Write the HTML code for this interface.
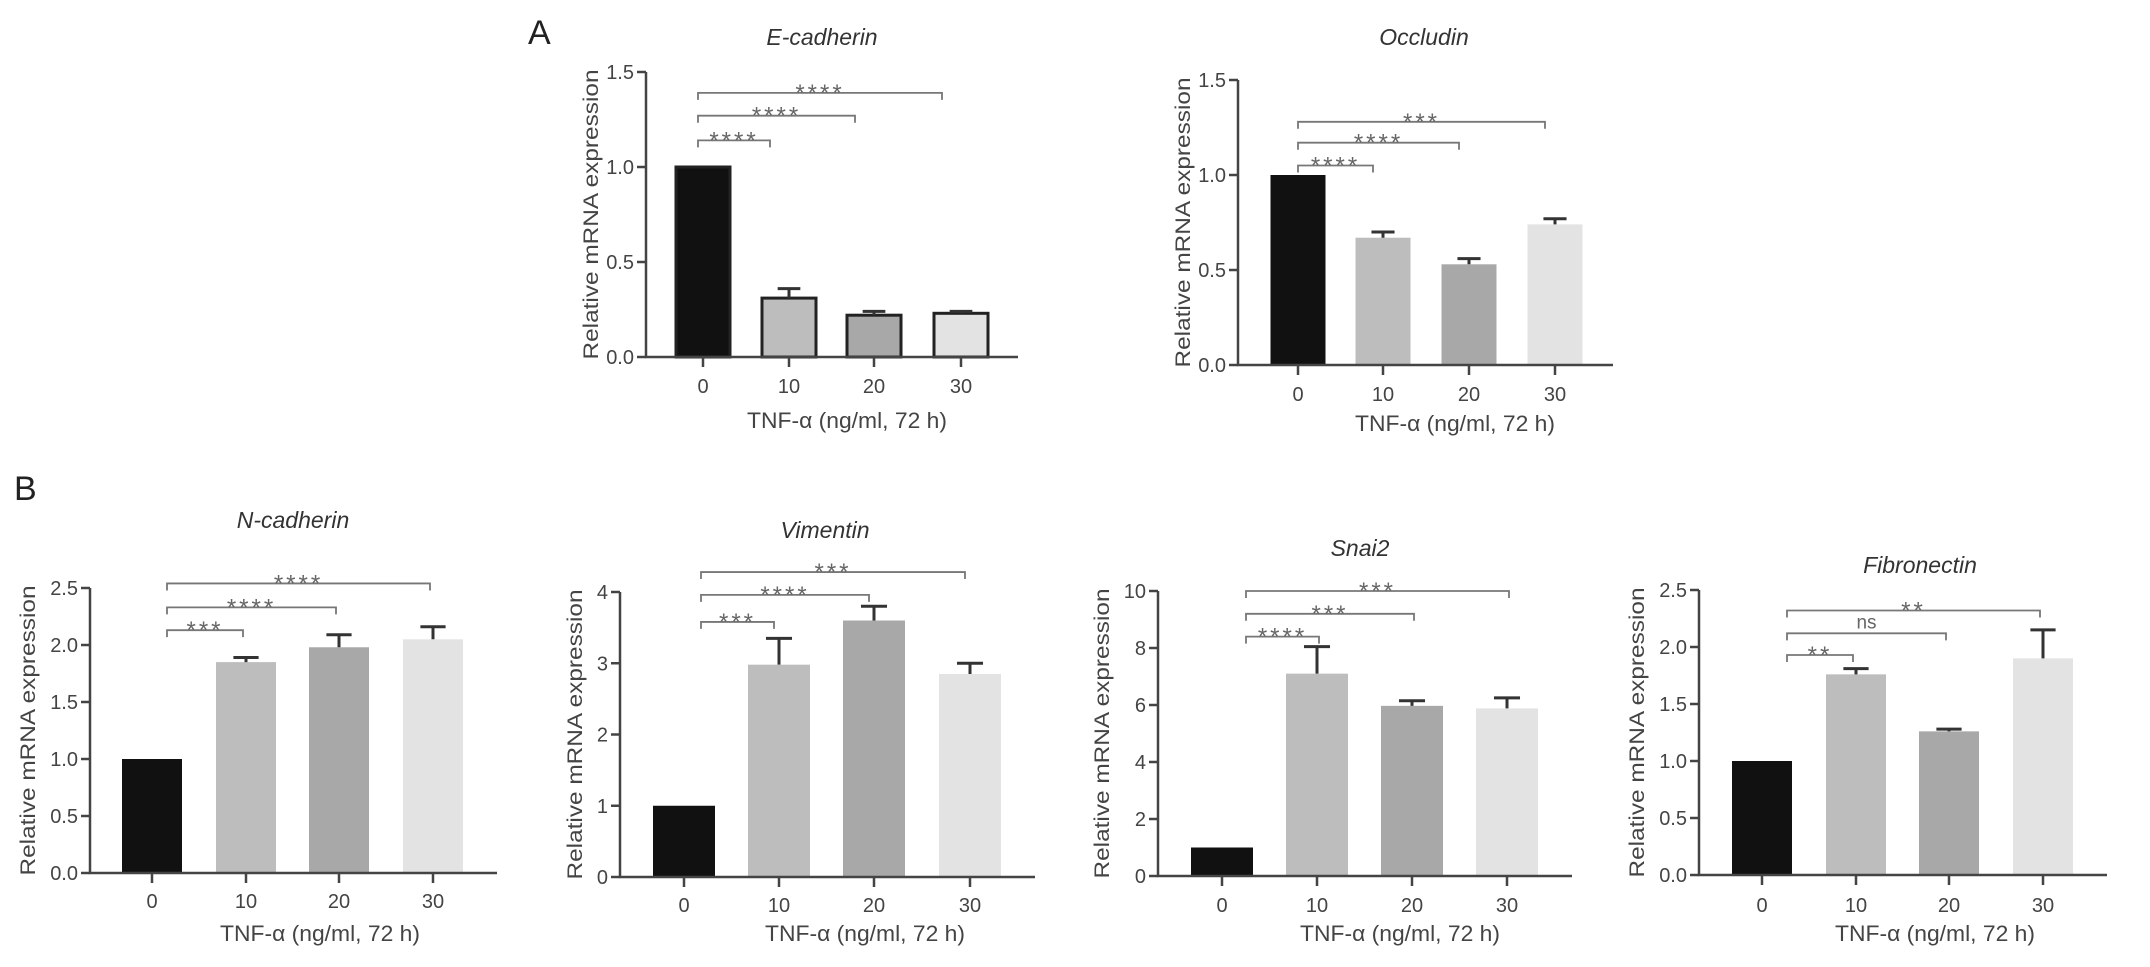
<!DOCTYPE html>
<html><head><meta charset="utf-8"><style>
html,body{margin:0;padding:0;background:#fff;}
svg{display:block;font-family:"Liberation Sans",Arial,sans-serif;}
</style></head><body>
<svg id="fig" width="2150" height="967" viewBox="0 0 2150 967" xmlns="http://www.w3.org/2000/svg">
<text x="528" y="44" font-size="34" fill="#222">A</text>
<text x="14" y="500" font-size="34" fill="#222">B</text>
</svg>
<script>
const categories = ["0","10","20","30"];
const colors = ["#111111","#bdbdbd","#a8a8a8","#e3e3e3"];
const ecadValues = [1.0, 0.31, 0.22, 0.23];
const ecadErr = [1.0, 0.36, 0.24, 0.24];
const ecadTicks = ["0.0","0.5","1.0","1.5"];
const ecadBrackets = [1.14, 1.27, 1.39];
const ecadStars = ["****","****","****"];
const occValues = [1.0, 0.67, 0.53, 0.74];
const occErr = [1.0, 0.70, 0.56, 0.77];
const occTicks = ["0.0","0.5","1.0","1.5"];
const occBrackets = [1.05, 1.17, 1.28];
const occStars = ["****","****","***"];
const ncadValues = [1.0, 1.85, 1.98, 2.05];
const ncadErr = [1.0, 1.89, 2.09, 2.16];
const ncadTicks = ["0.0","0.5","1.0","1.5","2.0","2.5"];
const ncadBrackets = [2.13, 2.33, 2.54];
const ncadStars = ["***","****","****"];
const vimValues = [1.0, 2.98, 3.6, 2.85];
const vimErr = [1.0, 3.35, 3.8, 3.0];
const vimTicks = ["0","1","2","3","4"];
const vimBrackets = [3.58, 3.96, 4.28];
const vimStars = ["***","****","***"];
const snaiValues = [1.0, 7.1, 5.97, 5.88];
const snaiErr = [1.0, 8.05, 6.15, 6.25];
const snaiTicks = ["0","2","4","6","8","10"];
const snaiBrackets = [8.4, 9.2, 10.0];
const snaiStars = ["****","***","***"];
const fibValues = [1.0, 1.76, 1.26, 1.90];
const fibErr = [1.0, 1.81, 1.28, 2.15];
const fibTicks = ["0.0","0.5","1.0","1.5","2.0","2.5"];
const fibBrackets = [1.93, 2.12, 2.32];
const fibStars = ["**","ns","**"];

const svg = document.getElementById('fig');
const NS = "http://www.w3.org/2000/svg";
function mk(tag, attrs, parent){
  const e = document.createElementNS(NS, tag);
  for (const k in attrs) e.setAttribute(k, attrs[k]);
  (parent||svg).appendChild(e);
  return e;
}
function panel(p){
  const g = mk('g', {});
  
  
  const ymax = parseFloat(p.ticks[p.ticks.length-1]);
  const y = v => p.y0 - (v / ymax) * (p.y0 - p.yTop);
  const x = i => p.cx[i];
  // title
  const t = mk('text', {x:p.titleX, y:p.titleY, 'font-size':23, 'font-style':'italic', 'text-anchor':'middle', fill:'#333'}, g);
  t.textContent = p.title;
  
  
  // bars
  p.values.forEach((v,i)=>{
    const w = p.bw;
    const r = mk('rect', {x:x(i)-w/2, y:y(v), width:w, height:p.y0 - y(v), fill:colors[i]}, g);
    if (p.outline){ r.setAttribute('stroke','#222'); r.setAttribute('stroke-width','3'); }
    
    
    if (p.err[i] > v + 1e-9){
      const cw = w*0.42;
      const el = mk('path', {d:`M${x(i)} ${y(v)} V${y(p.err[i])} M${x(i)-cw/2} ${y(p.err[i])} H${x(i)+cw/2}`, stroke:'#333', 'stroke-width':3, fill:'none'}, g);
      
      
    }
  });
  // axes
  const ax = mk('path', {d:`M${p.ax} ${p.yTop} V${p.y0} H${p.axEnd}`, stroke:'#444', 'stroke-width':2.5, fill:'none'}, g);
  
  
  p.ticks.forEach(tl=>{
    const yy = y(parseFloat(tl));
    mk('line', {x1:p.ax-9, x2:p.ax, y1:yy, y2:yy, stroke:'#444', 'stroke-width':2.5}, g);
    const tt = mk('text', {x:p.ax-12, y:yy+7, 'font-size':20, 'text-anchor':'end', fill:'#444'}, g);
    tt.textContent = tl;
    
    
  });
  categories.forEach((c,i)=>{
    mk('line', {x1:x(i), x2:x(i), y1:p.y0, y2:p.y0+10, stroke:'#444', 'stroke-width':2.5}, g);
    const tt = mk('text', {x:x(i), y:p.xtY, 'font-size':20, 'text-anchor':'middle', fill:'#444'}, g);
    tt.textContent = c;
    
    
  });
  const yl = mk('text', {x:0, y:0, 'font-size':21, 'text-anchor':'middle', fill:'#444', textLength:290, lengthAdjust:'spacingAndGlyphs', transform:`translate(${p.ylX},${(p.yTop+p.y0)/2}) rotate(-90)`}, g);
  yl.textContent = 'Relative mRNA expression';
  
  
  const xl = mk('text', {x:p.xlX, y:p.xlY, 'font-size':22, 'text-anchor':'middle', fill:'#444', textLength:200, lengthAdjust:'spacingAndGlyphs'}, g);
  xl.textContent = 'TNF-α (ng/ml, 72 h)';
  
  
  // brackets
  p.brackets.forEach((bv,k)=>{
    const x1 = x(0)+p.s, x2 = x(k+1)+p.e, yy = y(bv);
    const b = mk('path', {d:`M${x1} ${yy+7} V${yy} H${x2} V${yy+7}`, stroke:'#777', 'stroke-width':1.8, fill:'none'}, g);
    
    
    const st = p.stars[k];
    const s = mk('text', {x:(x1+x2)/2, y: st==='ns' ? yy-5 : yy+8, 'font-size': st==='ns'?19:24, 'text-anchor':'middle', fill:'#666', 'letter-spacing': st==='ns'?0:3}, g);
    s.textContent = st;
    
    
  });
}
panel({name:'e-cadherin', title:'E-cadherin', values:ecadValues, err:ecadErr, ticks:ecadTicks, brackets:ecadBrackets, stars:ecadStars,
  ax:646, yTop:72, y0:357, axEnd:1018, cx:[703,789,874,961], bw:54, outline:true,
  titleX:822, titleY:45, ylX:598, xtY:393, xlX:847, xlY:428, s:-5, e:-19});
panel({name:'occludin', title:'Occludin', values:occValues, err:occErr, ticks:occTicks, brackets:occBrackets, stars:occStars,
  ax:1238, yTop:80, y0:365, axEnd:1613, cx:[1298,1383,1469,1555], bw:55, outline:false,
  titleX:1424, titleY:45, ylX:1190, xtY:401, xlX:1455, xlY:431, s:0, e:-10});
panel({name:'n-cadherin', title:'N-cadherin', values:ncadValues, err:ncadErr, ticks:ncadTicks, brackets:ncadBrackets, stars:ncadStars,
  ax:90, yTop:588, y0:873, axEnd:497, cx:[152,246,339,433], bw:60, outline:false,
  titleX:293, titleY:528, ylX:35, xtY:908, xlX:320, xlY:941, s:15, e:-3});
panel({name:'vimentin', title:'Vimentin', values:vimValues, err:vimErr, ticks:vimTicks, brackets:vimBrackets, stars:vimStars,
  ax:620, yTop:592, y0:877, axEnd:1035, cx:[684,779,874,970], bw:62, outline:false,
  titleX:825, titleY:538, ylX:582, xtY:912, xlX:865, xlY:941, s:17, e:-5});
panel({name:'snai2', title:'Snai2', values:snaiValues, err:snaiErr, ticks:snaiTicks, brackets:snaiBrackets, stars:snaiStars,
  ax:1158, yTop:591, y0:876, axEnd:1572, cx:[1222,1317,1412,1507], bw:62, outline:false,
  titleX:1360, titleY:556, ylX:1109, xtY:912, xlX:1400, xlY:941, s:24, e:2});
panel({name:'fibronectin', title:'Fibronectin', values:fibValues, err:fibErr, ticks:fibTicks, brackets:fibBrackets, stars:fibStars,
  ax:1699, yTop:590, y0:875, axEnd:2107, cx:[1762,1856,1949,2043], bw:60, outline:false,
  titleX:1920, titleY:573, ylX:1644, xtY:912, xlX:1935, xlY:941, s:25, e:-3});
</script>
</body></html>
